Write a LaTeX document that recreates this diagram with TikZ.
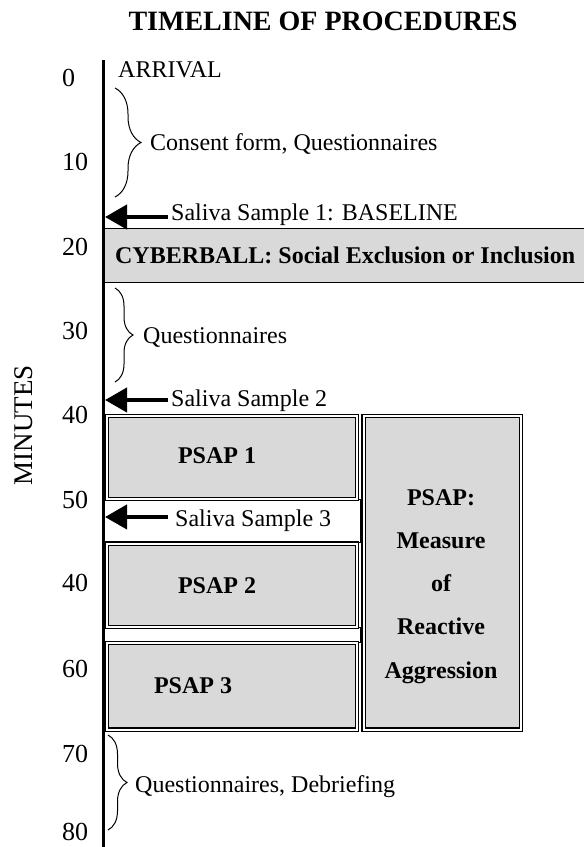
\documentclass[tikz,border=0pt]{standalone}
\usepackage{fontspec}
\setmainfont{Liberation Serif}
\usetikzlibrary{arrows.meta,decorations.pathreplacing}
\definecolor{cellgray}{RGB}{217,217,217}
\begin{document}
\begin{tikzpicture}[x=1pt,y=-1pt,
  txt/.style={font=\fontsize{24}{28}\selectfont, inner sep=0pt, anchor=base west},
  btxt/.style={font=\fontsize{24}{28}\selectfont\bfseries, inner sep=0pt, anchor=base},
  num/.style={font=\fontsize{26}{28}\selectfont, inner sep=0pt, anchor=base west},
  cellbox/.style={draw=black, line width=1.2pt, double=white, double distance=2pt, fill=cellgray, inner sep=0pt, anchor=north west},
  strip/.style={draw=black, line width=1pt, fill=white, inner sep=0pt, anchor=north west},
  bigarrow/.style={line width=4pt, -{Triangle[length=22pt,width=24pt]}},
  curly/.style={decorate, line width=1pt, decoration={brace, amplitude=#1}},
]
\useasboundingbox (0,0) rectangle (584,847);

% title
\node[font=\fontsize{28}{32}\selectfont\bfseries, inner sep=0pt, anchor=base] (title) at (323,30) {TIMELINE OF PROCEDURES};

% axis label
\node[font=\fontsize{27}{30}\selectfont, inner sep=0pt, anchor=base, rotate=90] (minutes) at (32,425) {MINUTES};

% minute numbers
\node[num] (n0) at (62,86) {0};
\node[num] (n10) at (62,170) {10};
\node[num] (n20) at (62,255) {20};
\node[num] (n30) at (62,339) {30};
\node[num] (n40) at (62,423) {40};
\node[num] (n50) at (62,508) {50};
\node[num] (n40b) at (62,591) {40};
\node[num] (n60) at (62,677) {60};
\node[num] (n70) at (62,762) {70};
\node[num] (n80) at (62,840) {80};

% cyberball box
\node[draw=black, line width=1.3pt, fill=cellgray, inner sep=0pt, anchor=north west,
      minimum width=483pt, minimum height=54pt,
      font=\fontsize{24}{28}\selectfont\bfseries] (cb) at (103,228) {CYBERBALL: Social Exclusion or Inclusion};

% PSAP block
\node[strip, minimum width=255.5pt, minimum height=43pt] (st1) at (104,499) {};
\node[strip, minimum width=255.5pt, minimum height=15pt] (st2) at (104,627) {};
\node[cellbox, minimum width=250.5pt, minimum height=83pt] (p1) at (106,415.5) {};
\node[cellbox, minimum width=250.5pt, minimum height=83.5pt] (p2) at (106,543) {};
\node[cellbox, minimum width=250.5pt, minimum height=86.5pt] (p3) at (106,642.5) {};
\node[cellbox, minimum width=157.5pt, minimum height=313.5pt] (pr) at (363,415.5) {};

\node[btxt] (p1t) at (217,463) {PSAP 1};
\node[btxt] (p2t) at (217,593) {PSAP 2};
\node[btxt] (p3t) at (193,693) {PSAP 3};
\node[font=\fontsize{24}{43.25}\selectfont\bfseries, inner sep=0pt, anchor=north, align=center] (prt) at (441,489) {PSAP:\\Measure\\of\\Reactive\\Aggression};

% axis
\coordinate (axtop) at (103.5,60);
\coordinate (axbot) at (103.5,852);
\draw[line width=3.5pt] (axtop) -- (axbot);

% texts
\node[txt] (arr) at (118,77.5) {ARRIVAL};
\node[txt] (cons) at (150,150) {Consent form, Questionnaires};
\node[txt] (s1) at (171,220) {Saliva Sample 1: BASELINE};
\node[txt] (q2) at (143,343) {Questionnaires};
\node[txt] (s2) at (171,406) {Saliva Sample 2};
\node[txt] (s3) at (175,526) {Saliva Sample 3};
\node[txt] (qd) at (135,792) {Questionnaires, Debriefing};

% braces
\coordinate (b1a) at (115,88);  \coordinate (b1b) at (115,197);
\coordinate (b2a) at (115,288); \coordinate (b2b) at (115,382);
\coordinate (b3a) at (108,735); \coordinate (b3b) at (108,830);
\draw[curly=26] (b1a) -- (b1b);
\draw[curly=18] (b2a) -- (b2b);
\draw[curly=19] (b3a) -- (b3b);

% arrows
\coordinate (h1) at (105,217);
\coordinate (h2) at (105,400);
\coordinate (h3) at (105,517);
\draw[bigarrow] ([xshift=-3pt]s1.west |- h1) -- (h1);
\draw[bigarrow] ([xshift=-3pt]s2.west |- h2) -- (h2);
\draw[bigarrow] ([xshift=-7pt]s3.west |- h3) -- (h3);
\end{tikzpicture}
\end{document}
